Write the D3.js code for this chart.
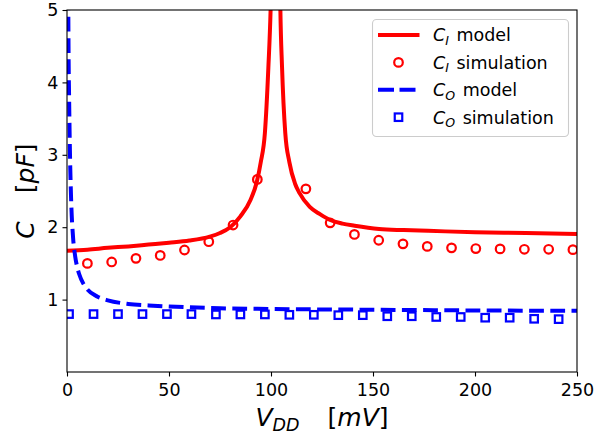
<!DOCTYPE html>
<html>
<head>
<meta charset="utf-8">
<script src="https://cdn.jsdelivr.net/npm/d3@7"></script>
<style>
  html, body { margin: 0; padding: 0; background: #fff; }
  svg { display: block; font-family: "DejaVu Sans", sans-serif; }
</style>
</head>
<body>
<svg id="chart" width="594" height="435"></svg>
<script>
// ---- data ----
const xTicks = [0, 50, 100, 150, 200, 250];
const yTicks = [1, 2, 3, 4, 5];

// C_I model, left branch of the resonance
const ciModelLeftV = [0, 10, 20, 30, 40, 50, 60, 70, 75, 80, 85, 90, 93, 95, 97, 98.7, 99.8, 100.3];
const ciModelLeftC = [1.675, 1.69, 1.715, 1.735, 1.76, 1.785, 1.815, 1.87, 1.92, 2.0, 2.15, 2.38, 2.62, 2.9, 3.3, 4.2, 5.0, 5.6];
// C_I model, right branch
const ciModelRightV = [104.3, 104.6, 105.4, 107, 109, 111.8, 114, 119, 124, 129, 135, 141, 153, 165, 177, 200, 225, 250];
const ciModelRightC = [5.6, 5.0, 4.22, 3.3, 2.9, 2.6, 2.47, 2.28, 2.18, 2.1, 2.05, 2.02, 1.975, 1.96, 1.95, 1.93, 1.92, 1.905];

// C_I simulation
const ciSimV = [10, 21.9, 33.8, 45.7, 57.6, 69.5, 81.4, 93.3, 117.1, 129, 140.9, 152.8, 164.7, 176.6, 188.5, 200.4, 212.3, 224.2, 236.1, 248];
const ciSimC = [1.50, 1.52, 1.57, 1.61, 1.685, 1.80, 2.03, 2.66, 2.53, 2.06, 1.90, 1.82, 1.77, 1.735, 1.715, 1.705, 1.70, 1.695, 1.695, 1.69];

// C_O model
const coModelV = [0.6, 0.8, 1.0, 1.5, 2, 3, 4, 5, 6, 8, 10, 15, 20, 30, 40, 50, 75, 100, 150, 200, 250];
const coModelC = [5.2, 4.3, 3.85, 2.95, 2.4, 1.85, 1.6, 1.45, 1.35, 1.22, 1.14, 1.04, 0.99, 0.94, 0.92, 0.905, 0.88, 0.87, 0.86, 0.85, 0.845];

// C_O simulation
const coSimV = [1, 13, 25, 37, 49, 61, 73, 85, 97, 109, 121, 133, 145, 157, 169, 181, 193, 205, 217, 229, 241];
const coSimC = [0.80, 0.80, 0.80, 0.80, 0.80, 0.80, 0.795, 0.795, 0.795, 0.79, 0.79, 0.785, 0.785, 0.77, 0.77, 0.76, 0.76, 0.75, 0.75, 0.735, 0.73];

// ---- layout ----
const L = 67, R = 577, T = 10, B = 372;
const RED = "#ff0000", BLUE = "#0000ff";
const svg = d3.select("#chart");

const x = d3.scaleLinear().domain([0, 250]).range([L, R]);
const y = d3.scaleLinear().domain([0, 5]).range([B, T]);

svg.append("defs").append("clipPath").attr("id", "plotclip")
  .append("rect").attr("x", L).attr("y", T).attr("width", R - L).attr("height", B - T);

const plot = svg.append("g").attr("clip-path", "url(#plotclip)");
const line = d3.line().curve(d3.curveMonotoneX).x(d => x(d[0])).y(d => y(d[1]));

const zip = (a, b) => a.map((v, i) => [v, b[i]]);

// C_I model
plot.append("path").datum(zip(ciModelLeftV, ciModelLeftC))
  .attr("d", line).attr("fill", "none").attr("stroke", RED).attr("stroke-width", 4);
plot.append("path").datum(zip(ciModelRightV, ciModelRightC))
  .attr("d", line).attr("fill", "none").attr("stroke", RED).attr("stroke-width", 4);

// C_O model
plot.append("path").datum(zip(coModelV, coModelC))
  .attr("d", line)
  .attr("fill", "none").attr("stroke", BLUE).attr("stroke-width", 4)
  .attr("stroke-dasharray", "14.8,6.4");

// C_I simulation
plot.selectAll("circle.ci").data(zip(ciSimV, ciSimC)).enter().append("circle")
  .attr("cx", d => x(d[0])).attr("cy", d => y(d[1])).attr("r", 4.3)
  .attr("fill", "none").attr("stroke", RED).attr("stroke-width", 2.2);

// C_O simulation
const sq = 7.5;
plot.selectAll("rect.co").data(zip(coSimV, coSimC)).enter().append("rect")
  .attr("x", d => x(d[0]) - sq / 2).attr("y", d => y(d[1]) - sq / 2)
  .attr("width", sq).attr("height", sq)
  .attr("fill", "none").attr("stroke", BLUE).attr("stroke-width", 2.2);

// ---- axes ----
const xAxis = svg.append("g").attr("transform", `translate(0,${B})`)
  .call(d3.axisBottom(x).tickValues(xTicks).tickSize(4.5).tickPadding(7.5).tickFormat(d3.format("d")));
const yAxis = svg.append("g").attr("transform", `translate(${L},0)`)
  .call(d3.axisLeft(y).tickValues(yTicks).tickSize(4.5).tickPadding(4).tickFormat(d3.format("d")));
[xAxis, yAxis].forEach(a => {
  a.select(".domain").remove();
  a.selectAll("line").attr("stroke", "#000").attr("stroke-width", 1.1);
  a.selectAll("text").attr("font-family", "DejaVu Sans").attr("font-size", 17.5).attr("fill", "#000");
});

// frame
svg.append("rect").attr("x", L).attr("y", T).attr("width", R - L).attr("height", B - T)
  .attr("fill", "none").attr("stroke", "#000").attr("stroke-width", 1.1);

// ---- axis labels ----
const xl = svg.append("text").attr("x", (L + R) / 2).attr("y", 426)
  .attr("text-anchor", "middle").attr("font-size", 25).attr("fill", "#000");
xl.append("tspan").attr("font-style", "oblique").text("V");
xl.append("tspan").attr("font-style", "oblique").attr("font-size", 17.5).attr("dy", 5).text("DD");
xl.append("tspan").attr("dy", -5).attr("dx", 28).text("[");
xl.append("tspan").attr("font-style", "oblique").text("mV");
xl.append("tspan").text("]");

const yl = svg.append("text").attr("transform", `translate(34,${(T + B) / 2}) rotate(-90)`)
  .attr("text-anchor", "middle").attr("font-size", 25).attr("fill", "#000");
yl.append("tspan").attr("font-style", "oblique").text("C");
yl.append("tspan").attr("dx", 28).text("[");
yl.append("tspan").attr("font-style", "oblique").text("pF");
yl.append("tspan").text("]");

// ---- legend ----
const lg = svg.append("g");
lg.append("rect").attr("x", 372.5).attr("y", 19.5).attr("width", 196).attr("height", 117)
  .attr("rx", 4).attr("fill", "#fff").attr("fill-opacity", 0.8).attr("stroke", "#cccccc").attr("stroke-width", 1.1);

const legendItems = [
  { sub: "I", label: " model", kind: "line" },
  { sub: "I", label: " simulation", kind: "circle" },
  { sub: "O", label: " model", kind: "dash" },
  { sub: "O", label: " simulation", kind: "square" }
];
const rowY = [35, 62.4, 89.8, 117.2];
legendItems.forEach((it, i) => {
  const cy = rowY[i];
  if (it.kind === "line") {
    lg.append("line").attr("x1", 378).attr("x2", 419.5).attr("y1", cy).attr("y2", cy)
      .attr("stroke", RED).attr("stroke-width", 4);
  } else if (it.kind === "dash") {
    lg.append("line").attr("x1", 378).attr("x2", 419.5).attr("y1", cy).attr("y2", cy)
      .attr("stroke", BLUE).attr("stroke-width", 4).attr("stroke-dasharray", "16,5.5");
  } else if (it.kind === "circle") {
    lg.append("circle").attr("cx", 398.5).attr("cy", cy).attr("r", 4.3)
      .attr("fill", "none").attr("stroke", RED).attr("stroke-width", 2.2);
  } else {
    lg.append("rect").attr("x", 398.5 - sq / 2).attr("y", cy - sq / 2).attr("width", sq).attr("height", sq)
      .attr("fill", "none").attr("stroke", BLUE).attr("stroke-width", 2.2);
  }
  const t = lg.append("text").attr("x", 433).attr("y", cy + 6.3).attr("font-size", 17.5).attr("fill", "#000");
  t.append("tspan").attr("font-style", "oblique").text("C");
  t.append("tspan").attr("font-style", "oblique").attr("font-size", 12.5).attr("dy", 3.5).text(it.sub);
  t.append("tspan").attr("dy", -3.5).attr("dx", 2).text(it.label);
});
</script>
</body>
</html>
